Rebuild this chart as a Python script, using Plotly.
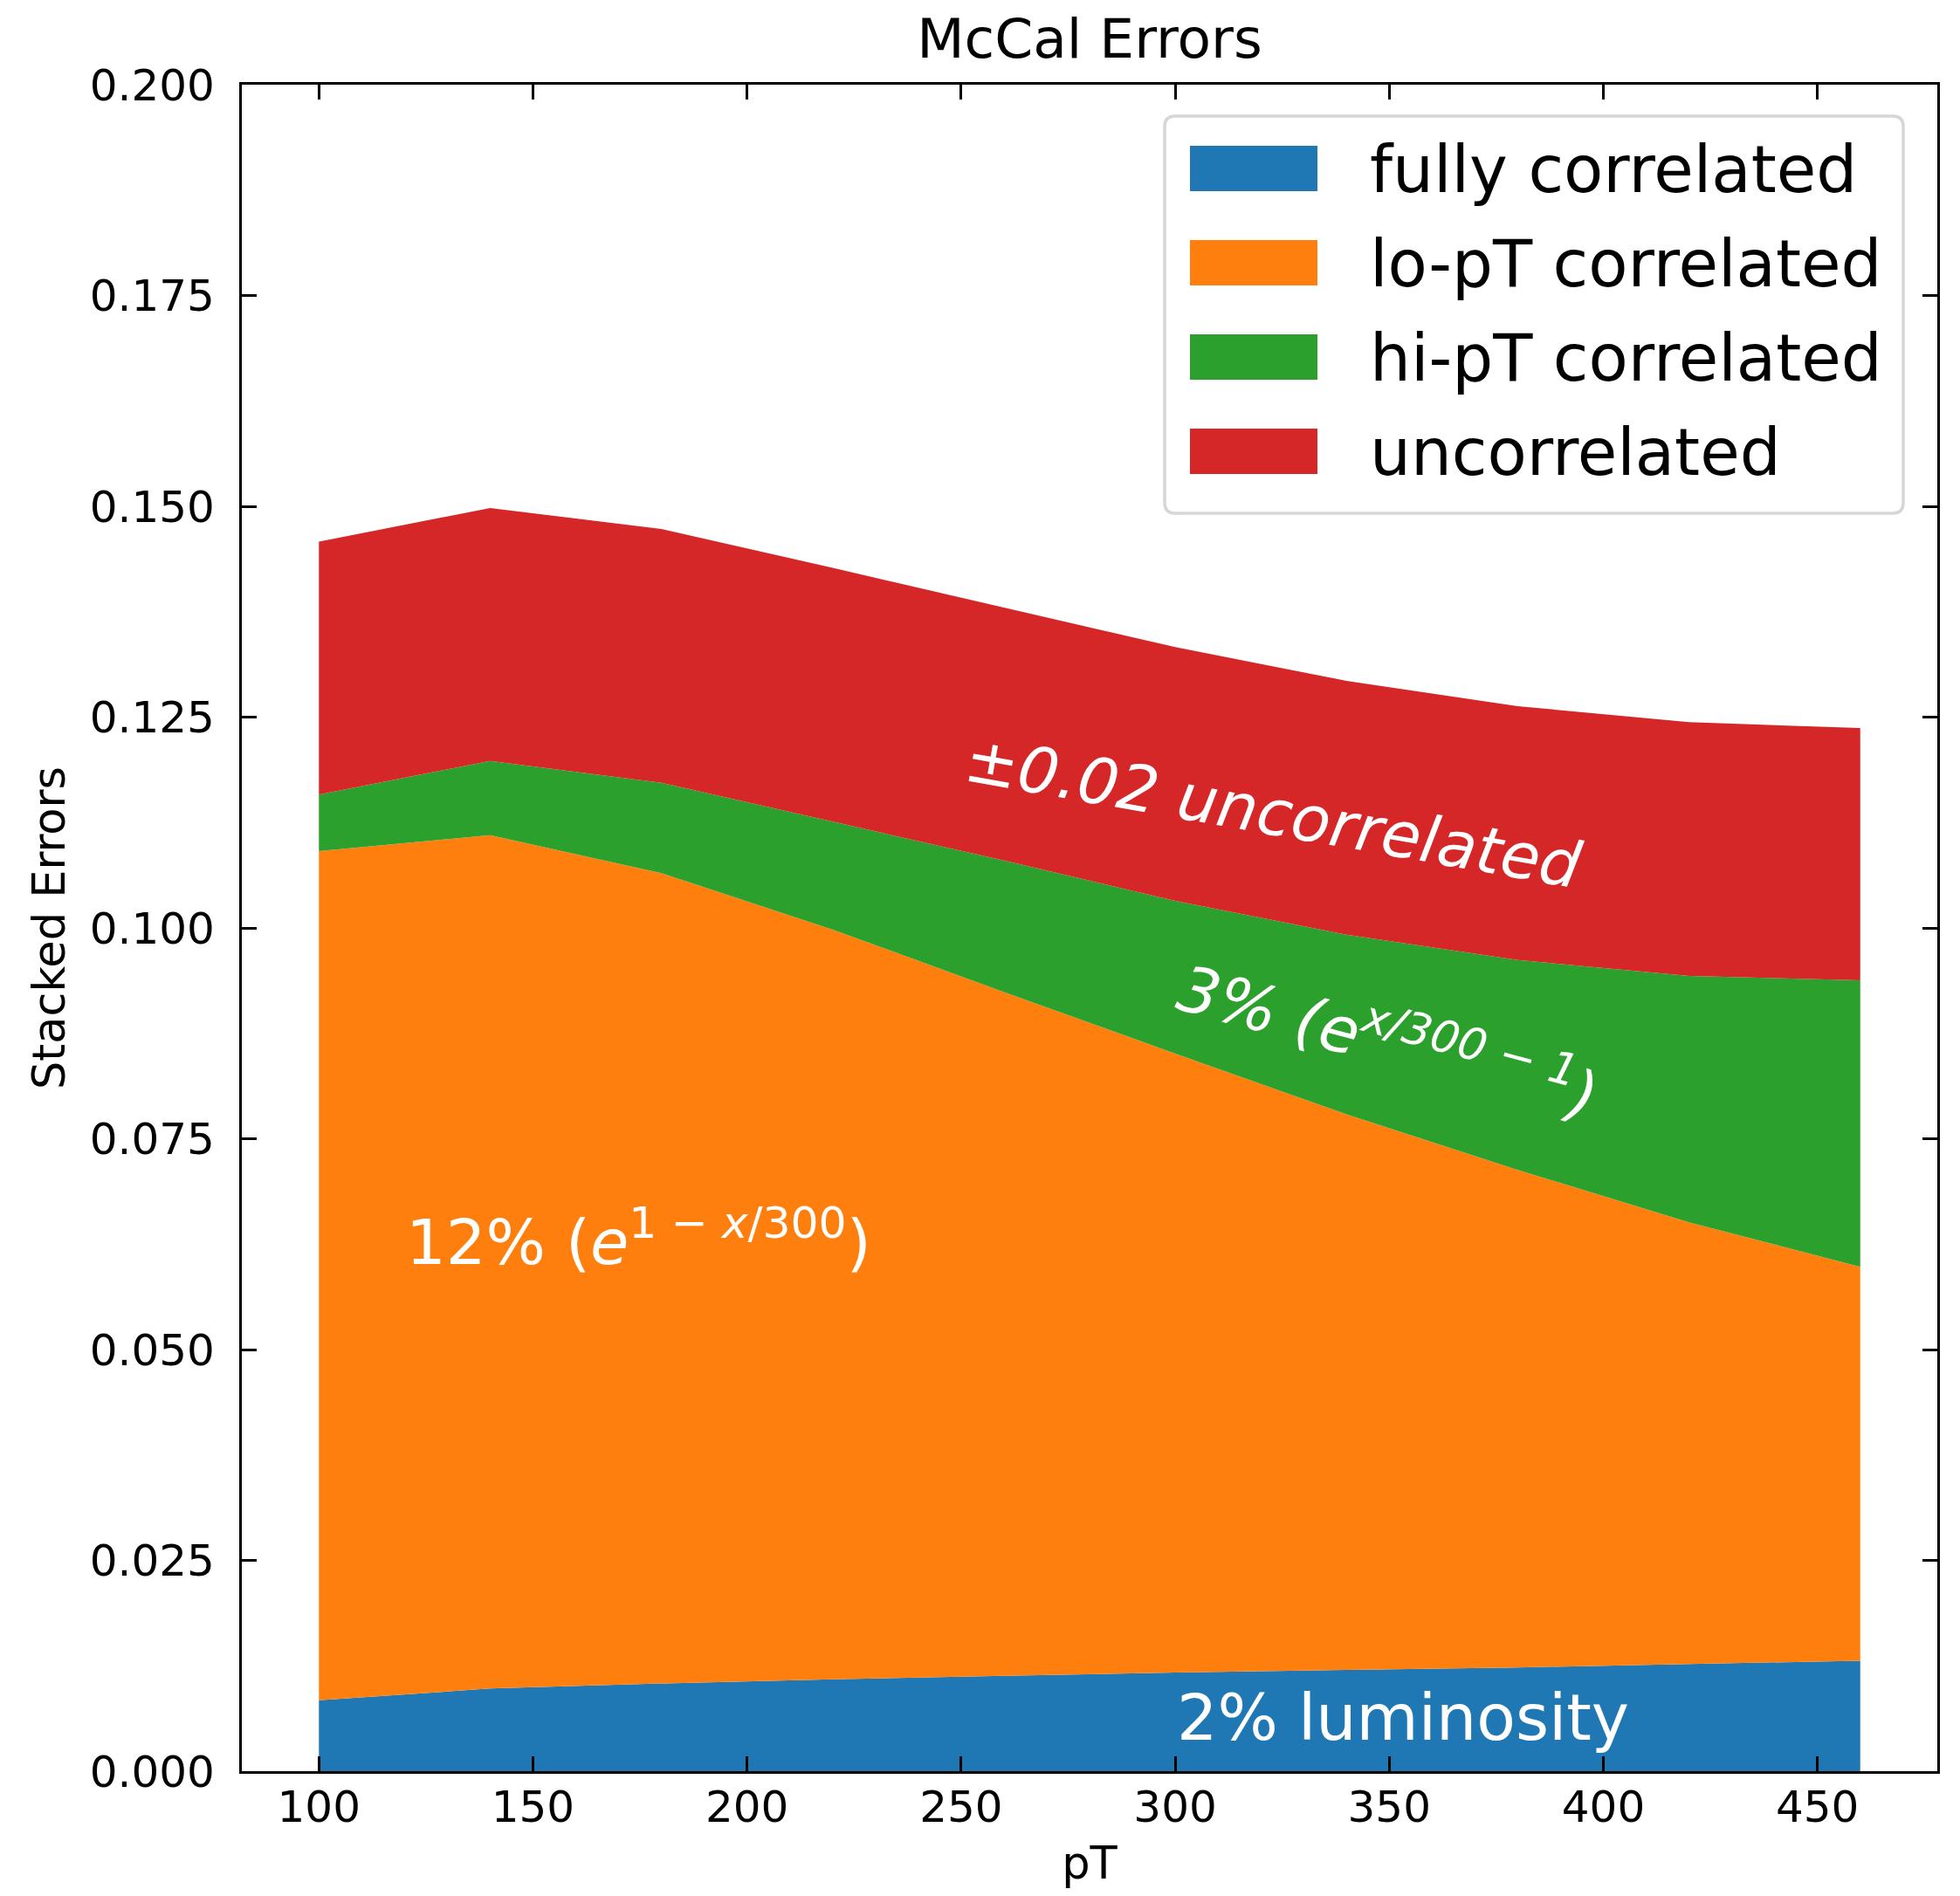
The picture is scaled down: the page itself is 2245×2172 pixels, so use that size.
import plotly.graph_objects as go

# ---- data ----
pT = [100, 140, 180, 220, 260, 300, 340, 380, 420, 460]
fully_correlated = [0.0084, 0.0098, 0.0104, 0.0109, 0.0113, 0.0117, 0.0120, 0.0123, 0.0127, 0.0131]
lo_pT_correlated = [0.1007, 0.1012, 0.0961, 0.0889, 0.0811, 0.0734, 0.0659, 0.0590, 0.0524, 0.0467]
hi_pT_correlated = [0.0067, 0.0088, 0.0107, 0.0128, 0.0156, 0.0181, 0.0213, 0.0249, 0.0292, 0.0340]
uncorrelated = [0.0300, 0.0300, 0.0301, 0.0301, 0.0300, 0.0301, 0.0301, 0.0301, 0.0301, 0.0299]

series_names = ["fully correlated", "lo-pT correlated", "hi-pT correlated", "uncorrelated"]
series_values = [fully_correlated, lo_pT_correlated, hi_pT_correlated, uncorrelated]
colors = ["#1f77b4", "#ff7f0e", "#2ca02c", "#d62728"]

x_ticks = [100, 150, 200, 250, 300, 350, 400, 450]
y_ticks = [0.000, 0.025, 0.050, 0.075, 0.100, 0.125, 0.150, 0.175, 0.200]

# ---- layout geometry (page pixels) ----
W, H = 2245, 2172
OFF = 8  # default body margin of the page
L, R, T, B = 277, 26, 97, 143
pw, ph = W - L - R, H - T - B


def pxx(px):
    return (px - L) / pw


def pxy(py):
    return (H - B - py) / ph


FONT = "DejaVu Sans"

fig = go.Figure()
for name, vals, col in zip(series_names, series_values, colors):
    fig.add_trace(go.Scatter(
        x=pT, y=vals, name=name, mode="lines", stackgroup="one",
        line=dict(width=0, color=col), fillcolor=col, showlegend=False,
        hoverinfo="skip",
    ))

axis_common = dict(
    showline=True, linecolor="black", linewidth=3.3, mirror="ticks",
    ticks="inside", ticklen=17, tickwidth=3, tickcolor="black",
    showgrid=False, zeroline=False, automargin=False,
    tickfont=dict(family=FONT, size=50, color="black"),
)

fig.update_xaxes(
    range=[82, 478], tickvals=x_ticks, ticktext=[str(v) for v in x_ticks],
    title=dict(text="pT", font=dict(family=FONT, size=51, color="black"), standoff=23),
    ticklabelstandoff=-5,
    **axis_common,
)
fig.update_yaxes(
    range=[0, 0.2], tickvals=y_ticks, ticktext=[f"{v:.3f}" for v in y_ticks],
    title=dict(text="Stacked Errors", font=dict(family=FONT, size=51, color="black"), standoff=12),
    ticklabelstandoff=18,
    **axis_common,
)

fig.update_layout(
    width=W - 2 * OFF, height=H - 2 * OFF, autosize=False,
    margin=dict(l=L - OFF, r=R - OFF, t=T - OFF, b=B - OFF, pad=0, autoexpand=False),
    paper_bgcolor="white", plot_bgcolor="white",
    title=dict(text="McCal Errors", x=pxx((L + W - R) / 2), xanchor="center",
               y=1 - (44 - OFF) / (H - 2 * OFF), yanchor="middle", yref="container", xref="paper",
               font=dict(family=FONT, size=63, color="black")),
    showlegend=False,
)

# ---- in-plot labels ----
ann_font = dict(family=FONT, size=73, color="white")
fig.add_annotation(x=300, y=0.0037, xref="x", yref="y", text="2% luminosity",
                   showarrow=False, xanchor="left", yanchor="bottom", yshift=-19, font=ann_font)
fig.add_annotation(x=120, y=0.060, xref="x", yref="y",
                   text="12% (<i>e</i><sup>1 − <i>x</i>/300</sup>)",
                   showarrow=False, xanchor="left", yanchor="bottom", yshift=-18,
                   font=dict(family=FONT, size=72, color="white"))
fig.add_annotation(x=350, y=0.0869, xref="x", yref="y",
                   text="<i>3% (e<sup>x/300 − 1</sup>)</i>", textangle=15,
                   showarrow=False, xanchor="center", yanchor="middle", font=ann_font)
fig.add_annotation(x=323, y=0.1137, xref="x", yref="y",
                   text="<i>±0.02 uncorrelated</i>", textangle=10,
                   showarrow=False, xanchor="center", yanchor="middle", font=ann_font)

# ---- legend (drawn like matplotlib's boxed legend) ----
bx0, bx1, by0, by1 = 1334, 2180, 133, 588
rx, ry = 12 / pw, 12 / ph
X0, X1, Y0, Y1 = pxx(bx0), pxx(bx1), pxy(by1), pxy(by0)
path = (f"M{X0+rx},{Y0} L{X1-rx},{Y0} Q{X1},{Y0} {X1},{Y0+ry} L{X1},{Y1-ry} Q{X1},{Y1} {X1-rx},{Y1} "
        f"L{X0+rx},{Y1} Q{X0},{Y1} {X0},{Y1-ry} L{X0},{Y0+ry} Q{X0},{Y0} {X0+rx},{Y0} Z")
fig.add_shape(type="path", path=path, xref="paper", yref="paper",
              line=dict(color="#d6d6d6", width=3.5), fillcolor="rgba(255,255,255,0.8)", layer="above")
for i, (name, col) in enumerate(zip(series_names, colors)):
    cy = 193 + 108 * i
    fig.add_shape(type="rect", xref="paper", yref="paper",
                  x0=pxx(1363), x1=pxx(1509), y0=pxy(cy + 26), y1=pxy(cy - 26),
                  line=dict(width=0), fillcolor=col, layer="above")
    fig.add_annotation(x=pxx(1567), y=pxy(cy + 27), xref="paper", yref="paper", text=name,
                       showarrow=False, xanchor="left", yanchor="bottom", yshift=-19,
                       font=dict(family=FONT, size=74, color="black"))

fig.write_html("out.html")
